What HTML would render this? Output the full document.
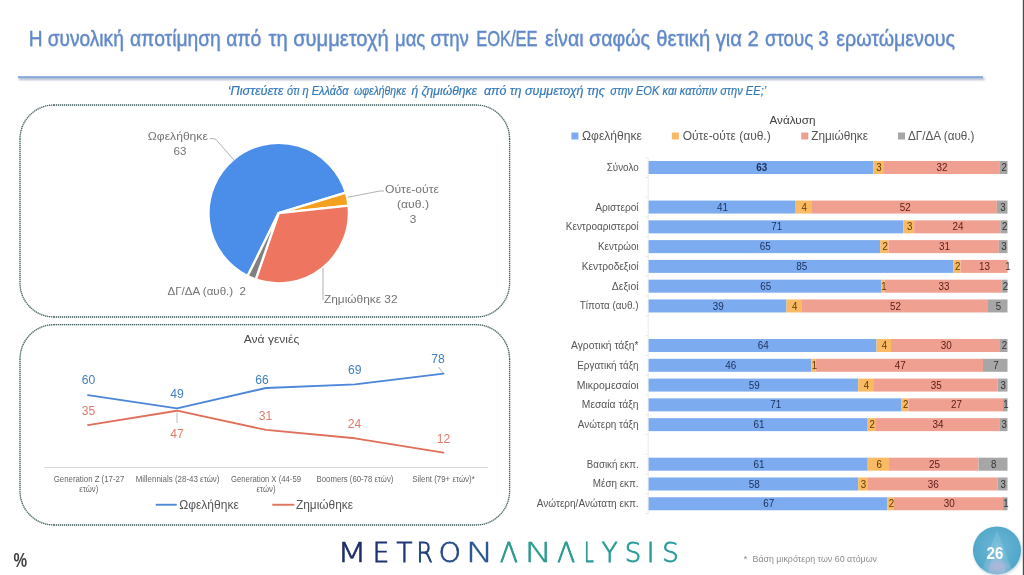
<!DOCTYPE html>
<html lang="el"><head><meta charset="utf-8"><title>Metron Analysis</title>
<style>html,body{margin:0;padding:0;background:#fff;overflow:hidden}svg{display:block}text{white-space:pre}</style></head>
<body>
<svg width="1024" height="575" viewBox="0 0 1024 575" font-family="'Liberation Sans', sans-serif">
<defs>
<filter id="ts" x="-2%" y="-30%" width="104%" height="170%"><feDropShadow dx="0.5" dy="0.7" stdDeviation="0.7" flood-color="#7a8aa5" flood-opacity="0.22"/></filter>
<filter id="sh2" x="-50%" y="-50%" width="200%" height="200%"><feGaussianBlur stdDeviation="2"/></filter>
<filter id="sh" x="-5%" y="-200%" width="110%" height="600%"><feGaussianBlur stdDeviation="1.2"/></filter>
<linearGradient id="lg1" x1="341" x2="490" y1="0" y2="0" gradientUnits="userSpaceOnUse"><stop offset="0" stop-color="#1d2f6c"/><stop offset="0.6" stop-color="#20427f"/><stop offset="1" stop-color="#2a5c96"/></linearGradient>
<linearGradient id="lg2" x1="500" x2="677" y1="0" y2="0" gradientUnits="userSpaceOnUse"><stop offset="0" stop-color="#2c9a8e"/><stop offset="1" stop-color="#2a9a9c"/></linearGradient>
<radialGradient id="cg" cx="0.5" cy="0.45" r="0.55"><stop offset="0" stop-color="#6db7d6"/><stop offset="1" stop-color="#4fa6c8"/></radialGradient>
<clipPath id="cc"><circle cx="997" cy="550.4" r="24"/></clipPath>
</defs>
<rect width="1024" height="575" fill="#fff"/>
<rect x="1022.8" y="0" width="1.2" height="575" fill="#4d4d4d"/>
<text y="46" font-size="22" fill="#6089c8" stroke="#6089c8" stroke-width="0.35" filter="url(#ts)"><tspan x="28.75" textLength="95.00" lengthAdjust="spacingAndGlyphs">Η συνολική</tspan> <tspan x="130" textLength="131.25" lengthAdjust="spacingAndGlyphs">αποτίμηση από</tspan> <tspan x="268.5" textLength="120.25" lengthAdjust="spacingAndGlyphs">τη συμμετοχή</tspan> <tspan x="395" textLength="73.75" lengthAdjust="spacingAndGlyphs">μας στην</tspan> <tspan x="476.25" textLength="61.25" lengthAdjust="spacingAndGlyphs">ΕΟΚ/ΕΕ</tspan> <tspan x="545" textLength="105.00" lengthAdjust="spacingAndGlyphs">είναι σαφώς</tspan> <tspan x="656.25" textLength="102.50" lengthAdjust="spacingAndGlyphs">θετική για 2</tspan> <tspan x="765" textLength="63.75" lengthAdjust="spacingAndGlyphs">στους 3</tspan> <tspan x="836.25" textLength="118.75" lengthAdjust="spacingAndGlyphs">ερωτώμενους</tspan></text>
<rect x="19" y="77.6" width="965.5" height="2.4" fill="#8c9bb5" opacity="0.75" filter="url(#sh)"/>
<rect x="18" y="76.2" width="965" height="2" fill="#86a6da"/>
<text y="95" font-size="12.4" fill="#3379b7" stroke="#3379b7" stroke-width="0.2" font-style="italic"><tspan x="227.7" textLength="55.70" lengthAdjust="spacingAndGlyphs">‘Πιστεύετε</tspan> <tspan x="287" textLength="61.50" lengthAdjust="spacingAndGlyphs">ότι η Ελλάδα</tspan> <tspan x="354" textLength="52.00" lengthAdjust="spacingAndGlyphs">ωφελήθηκε</tspan> <tspan x="411.4" textLength="65.60" lengthAdjust="spacingAndGlyphs">ή ζημιώθηκε</tspan> <tspan x="483.9" textLength="120.90" lengthAdjust="spacingAndGlyphs">από τη συμμετοχή της</tspan> <tspan x="610.3" textLength="155.90" lengthAdjust="spacingAndGlyphs">στην ΕΟΚ και κατόπιν στην ΕΕ;’</tspan></text>
<path d="M54,105 H476 M54,317 H476 M20,139 V283 M509.6,139 V283 M54,105 A34,34 0 0 0 20,139 M476,105 A33.60,34 0 0 1 509.6,139 M476,317 A33.60,34 0 0 0 509.6,283 M54,317 A34,34 0 0 1 20,283" fill="none" stroke="#bccccc" stroke-width="1.2"/>
<path d="M54,105 H476 M54,317 H476 M20,139 V283 M509.6,139 V283 M54,105 A34,34 0 0 0 20,139 M476,105 A33.60,34 0 0 1 509.6,139 M476,317 A33.60,34 0 0 0 509.6,283 M54,317 A34,34 0 0 1 20,283" fill="none" stroke="#4a6060" stroke-width="1.3" stroke-dasharray="1 1"/>
<path d="M54,324.7 H476 M54,525 H476 M20,359 V491 M509.6,359 V491 M54,324.7 A34,34.30000000000001 0 0 0 20,359 M476,324.7 A33.60,34.30000000000001 0 0 1 509.6,359 M476,525 A33.60,34 0 0 0 509.6,491 M54,525 A34,34 0 0 1 20,491" fill="none" stroke="#bccccc" stroke-width="1.2"/>
<path d="M54,324.7 H476 M54,525 H476 M20,359 V491 M509.6,359 V491 M54,324.7 A34,34.30000000000001 0 0 0 20,359 M476,324.7 A33.60,34.30000000000001 0 0 1 509.6,359 M476,525 A33.60,34 0 0 0 509.6,491 M54,525 A34,34 0 0 1 20,491" fill="none" stroke="#4a6060" stroke-width="1.3" stroke-dasharray="1 1"/>
<path d="M278.7,213.1 L247.60,276.03 A70.2,70.2 0 1 1 345.87,192.69 Z" fill="#4a8eea" stroke="#fff" stroke-width="2.3" stroke-linejoin="round"/>
<path d="M278.7,213.1 L345.87,192.69 A70.2,70.2 0 0 1 348.50,205.64 Z" fill="#f6a01f" stroke="#fff" stroke-width="2.3" stroke-linejoin="round"/>
<path d="M278.7,213.1 L348.50,205.64 A70.2,70.2 0 0 1 255.73,279.44 Z" fill="#ee7560" stroke="#fff" stroke-width="2.3" stroke-linejoin="round"/>
<path d="M278.7,213.1 L255.73,279.44 A70.2,70.2 0 0 1 247.60,276.03 Z" fill="#808080" stroke="#fff" stroke-width="2.3" stroke-linejoin="round"/>
<polyline points="210,138.5 215.5,139 234,160" fill="none" stroke="#a8a8a8" stroke-width="0.9"/>
<polyline points="347.5,197.3 380,191 384,191" fill="none" stroke="#a8a8a8" stroke-width="0.9"/>
<polyline points="323,268 323,300" fill="none" stroke="#a8a8a8" stroke-width="0.9"/>
<text x="147.80" y="140.00" font-size="11.8" fill="#737373" textLength="60.00" lengthAdjust="spacingAndGlyphs">Ωφελήθηκε</text>
<text x="173.50" y="154.70" font-size="11.8" fill="#737373" textLength="13.00" lengthAdjust="spacingAndGlyphs">63</text>
<text x="385.00" y="193.00" font-size="11.8" fill="#737373" textLength="54.00" lengthAdjust="spacingAndGlyphs">Ούτε-ούτε</text>
<text x="397.00" y="208.00" font-size="11.8" fill="#737373" textLength="32.00" lengthAdjust="spacingAndGlyphs">(αυθ.)</text>
<text x="413.00" y="223.00" font-size="11.8" fill="#737373" text-anchor="middle">3</text>
<text x="167.50" y="294.50" font-size="11.8" fill="#737373" textLength="78.50" lengthAdjust="spacingAndGlyphs" xml:space="preserve">ΔΓ/ΔΑ (αυθ.)  2</text>
<text x="324.00" y="302.50" font-size="11.8" fill="#737373" textLength="73.50" lengthAdjust="spacingAndGlyphs">Ζημιώθηκε 32</text>
<text x="243.75" y="343.00" font-size="11.8" fill="#4a4a4a" textLength="55.50" lengthAdjust="spacingAndGlyphs">Ανά γενιές</text>
<line x1="44" x2="488" y1="467.5" y2="467.5" stroke="#dadada" stroke-width="1"/>
<polyline points="88,395.18 177,408.35 266,388.00 355,384.41 443.5,373.63" fill="none" stroke="#4c86d9" stroke-width="1.8" stroke-linejoin="round" stroke-linecap="round"/>
<polyline points="88,425.11 177,410.74 266,429.89 355,438.27 443.5,452.64" fill="none" stroke="#e06f5a" stroke-width="1.8" stroke-linejoin="round" stroke-linecap="round"/>
<text x="81.75" y="384.05" font-size="12" fill="#3f7fc1" textLength="13.50" lengthAdjust="spacingAndGlyphs">60</text>
<text x="170.25" y="397.80" font-size="12" fill="#3f7fc1" textLength="13.50" lengthAdjust="spacingAndGlyphs">49</text>
<text x="255.25" y="384.05" font-size="12" fill="#3f7fc1" textLength="13.50" lengthAdjust="spacingAndGlyphs">66</text>
<text x="348.00" y="374.05" font-size="12" fill="#3f7fc1" textLength="13.50" lengthAdjust="spacingAndGlyphs">69</text>
<text x="431.25" y="362.80" font-size="12" fill="#3f7fc1" textLength="13.50" lengthAdjust="spacingAndGlyphs">78</text>
<text x="81.75" y="415.05" font-size="12" fill="#e07c6c" textLength="13.50" lengthAdjust="spacingAndGlyphs">35</text>
<text x="170.25" y="437.80" font-size="12" fill="#e07c6c" textLength="13.50" lengthAdjust="spacingAndGlyphs">47</text>
<text x="258.75" y="420.05" font-size="12" fill="#e07c6c" textLength="13.50" lengthAdjust="spacingAndGlyphs">31</text>
<text x="347.75" y="428.30" font-size="12" fill="#e07c6c" textLength="13.50" lengthAdjust="spacingAndGlyphs">24</text>
<text x="436.75" y="443.30" font-size="12" fill="#e07c6c" textLength="13.50" lengthAdjust="spacingAndGlyphs">12</text>
<line x1="177" x2="177" y1="412.5" y2="423" stroke="#a8a8a8" stroke-width="0.8"/>
<line x1="438.5" x2="443" y1="367" y2="373" stroke="#a8a8a8" stroke-width="0.9"/>
<text x="53.75" y="482.00" font-size="8.4" fill="#666" textLength="70.50" lengthAdjust="spacingAndGlyphs">Generation Z (17-27</text>
<text x="79.25" y="492.00" font-size="8.4" fill="#666" textLength="19.00" lengthAdjust="spacingAndGlyphs">ετών)</text>
<text x="135.72" y="482.00" font-size="8.4" fill="#666" textLength="83.75" lengthAdjust="spacingAndGlyphs">Millennials (28-43 ετών)</text>
<text x="231.00" y="482.00" font-size="8.4" fill="#666" textLength="70.00" lengthAdjust="spacingAndGlyphs">Generation X (44-59</text>
<text x="256.50" y="492.00" font-size="8.4" fill="#666" textLength="19.00" lengthAdjust="spacingAndGlyphs">ετών)</text>
<text x="316.62" y="482.00" font-size="8.4" fill="#666" textLength="76.75" lengthAdjust="spacingAndGlyphs">Boomers (60-78 ετών)</text>
<text x="412.25" y="482.00" font-size="8.4" fill="#666" textLength="62.50" lengthAdjust="spacingAndGlyphs">Silent (79+ ετών)*</text>
<line x1="155.75" x2="176.7" y1="504.75" y2="504.75" stroke="#5089da" stroke-width="1.9"/>
<text x="179.25" y="509.00" font-size="13.2" fill="#555" textLength="59.50" lengthAdjust="spacingAndGlyphs">Ωφελήθηκε</text>
<line x1="272.25" x2="294.3" y1="504.75" y2="504.75" stroke="#e2735e" stroke-width="1.9"/>
<text x="296.00" y="509.00" font-size="13.2" fill="#555" textLength="57.00" lengthAdjust="spacingAndGlyphs">Ζημιώθηκε</text>
<text x="13.60" y="567.00" font-size="20.3" fill="#404040" textLength="13.60" lengthAdjust="spacingAndGlyphs" font-weight="bold">%</text>
<text x="769.50" y="123.75" font-size="11.6" fill="#404040" textLength="46.00" lengthAdjust="spacingAndGlyphs">Ανάλυση</text>
<rect x="571.4" y="132.5" width="7" height="7" fill="#7dabf0"/>
<text x="582.00" y="139.80" font-size="12" fill="#555" textLength="60.00" lengthAdjust="spacingAndGlyphs">Ωφελήθηκε</text>
<rect x="671.8" y="132.5" width="7" height="7" fill="#f9ba63"/>
<text x="682.70" y="139.80" font-size="12" fill="#555" textLength="88.00" lengthAdjust="spacingAndGlyphs">Ούτε-ούτε (αυθ.)</text>
<rect x="801.25" y="132.5" width="7" height="7" fill="#f0a091"/>
<text x="811.25" y="139.80" font-size="12" fill="#555" textLength="56.75" lengthAdjust="spacingAndGlyphs">Ζημιώθηκε</text>
<rect x="898" y="132.5" width="7" height="7" fill="#a6a6a6"/>
<text x="908.00" y="139.80" font-size="12" fill="#555" textLength="66.50" lengthAdjust="spacingAndGlyphs">ΔΓ/ΔΑ (αυθ.)</text>
<path d="M648.2,157.61 V513.65 M645,157.61 H648.2 M645,177.39 H648.2 M645,197.17 H648.2 M645,216.95 H648.2 M645,236.73 H648.2 M645,256.51 H648.2 M645,276.29 H648.2 M645,296.07 H648.2 M645,315.85 H648.2 M645,335.63 H648.2 M645,355.41 H648.2 M645,375.19 H648.2 M645,394.97 H648.2 M645,414.75 H648.2 M645,434.53 H648.2 M645,454.31 H648.2 M645,474.09 H648.2 M645,493.87 H648.2 M645,513.65 H648.2" fill="none" stroke="#e9e9e9" stroke-width="0.9"/>
<text x="606.80" y="171.00" font-size="10.1" fill="#555" textLength="31.80" lengthAdjust="spacingAndGlyphs">Σύνολο</text>
<rect x="648.60" y="161.00" width="224.60" height="13" fill="#7dabf0"/>
<rect x="873.20" y="161.00" width="10.00" height="13" fill="#f9ba63"/>
<rect x="883.20" y="161.00" width="116.10" height="13" fill="#f0a091"/>
<rect x="999.30" y="161.00" width="8.20" height="13" fill="#a6a6a6"/>
<text x="756.20" y="171.10" font-size="10.3" fill="#1a2f5a" textLength="11.00" lengthAdjust="spacingAndGlyphs" font-weight="bold">63</text>
<text x="876.30" y="171.10" font-size="10.3" fill="#5e3a00" textLength="5.40" lengthAdjust="spacingAndGlyphs">3</text>
<text x="936.55" y="171.10" font-size="10.3" fill="#5a1c14" textLength="11.00" lengthAdjust="spacingAndGlyphs">32</text>
<text x="1001.50" y="171.10" font-size="10.3" fill="#333333" textLength="5.40" lengthAdjust="spacingAndGlyphs">2</text>
<text x="595.30" y="210.56" font-size="10.1" fill="#555" textLength="43.30" lengthAdjust="spacingAndGlyphs">Αριστεροί</text>
<rect x="648.60" y="200.56" width="146.40" height="13" fill="#7dabf0"/>
<rect x="795.00" y="200.56" width="17.00" height="13" fill="#f9ba63"/>
<rect x="812.00" y="200.56" width="184.80" height="13" fill="#f0a091"/>
<rect x="996.80" y="200.56" width="10.70" height="13" fill="#a6a6a6"/>
<text x="717.10" y="210.66" font-size="10.3" fill="#1a2f5a" textLength="11.00" lengthAdjust="spacingAndGlyphs">41</text>
<text x="801.60" y="210.66" font-size="10.3" fill="#5e3a00" textLength="5.40" lengthAdjust="spacingAndGlyphs">4</text>
<text x="899.70" y="210.66" font-size="10.3" fill="#5a1c14" textLength="11.00" lengthAdjust="spacingAndGlyphs">52</text>
<text x="1000.25" y="210.66" font-size="10.3" fill="#333333" textLength="5.40" lengthAdjust="spacingAndGlyphs">3</text>
<text x="565.80" y="230.34" font-size="10.1" fill="#555" textLength="72.80" lengthAdjust="spacingAndGlyphs">Κεντροαριστεροί</text>
<rect x="648.60" y="220.34" width="254.82" height="13" fill="#7dabf0"/>
<rect x="903.42" y="220.34" width="10.77" height="13" fill="#f9ba63"/>
<rect x="914.19" y="220.34" width="86.14" height="13" fill="#f0a091"/>
<rect x="1000.32" y="220.34" width="7.18" height="13" fill="#a6a6a6"/>
<text x="771.31" y="230.44" font-size="10.3" fill="#1a2f5a" textLength="11.00" lengthAdjust="spacingAndGlyphs">71</text>
<text x="906.90" y="230.44" font-size="10.3" fill="#5e3a00" textLength="5.40" lengthAdjust="spacingAndGlyphs">3</text>
<text x="952.55" y="230.44" font-size="10.3" fill="#5a1c14" textLength="11.00" lengthAdjust="spacingAndGlyphs">24</text>
<text x="1002.01" y="230.44" font-size="10.3" fill="#333333" textLength="5.40" lengthAdjust="spacingAndGlyphs">2</text>
<text x="598.05" y="250.12" font-size="10.1" fill="#555" textLength="40.55" lengthAdjust="spacingAndGlyphs">Κεντρώοι</text>
<rect x="648.60" y="240.12" width="231.60" height="13" fill="#7dabf0"/>
<rect x="880.20" y="240.12" width="8.30" height="13" fill="#f9ba63"/>
<rect x="888.50" y="240.12" width="110.30" height="13" fill="#f0a091"/>
<rect x="998.80" y="240.12" width="8.70" height="13" fill="#a6a6a6"/>
<text x="759.70" y="250.22" font-size="10.3" fill="#1a2f5a" textLength="11.00" lengthAdjust="spacingAndGlyphs">65</text>
<text x="882.45" y="250.22" font-size="10.3" fill="#5e3a00" textLength="5.40" lengthAdjust="spacingAndGlyphs">2</text>
<text x="938.95" y="250.22" font-size="10.3" fill="#5a1c14" textLength="11.00" lengthAdjust="spacingAndGlyphs">31</text>
<text x="1001.25" y="250.22" font-size="10.3" fill="#333333" textLength="5.40" lengthAdjust="spacingAndGlyphs">3</text>
<text x="581.80" y="269.90" font-size="10.1" fill="#555" textLength="56.80" lengthAdjust="spacingAndGlyphs">Κεντροδεξιοί</text>
<rect x="648.60" y="259.90" width="304.80" height="13" fill="#7dabf0"/>
<rect x="953.40" y="259.90" width="7.00" height="13" fill="#f9ba63"/>
<rect x="960.40" y="259.90" width="46.60" height="13" fill="#f0a091"/>
<rect x="1007.00" y="259.90" width="0.50" height="13" fill="#a6a6a6"/>
<text x="796.30" y="270.00" font-size="10.3" fill="#1a2f5a" textLength="11.00" lengthAdjust="spacingAndGlyphs">85</text>
<text x="955.00" y="270.00" font-size="10.3" fill="#5e3a00" textLength="5.40" lengthAdjust="spacingAndGlyphs">2</text>
<text x="979.00" y="270.00" font-size="10.3" fill="#5a1c14" textLength="11.00" lengthAdjust="spacingAndGlyphs">13</text>
<text x="1005.35" y="270.00" font-size="10.3" fill="#333333" textLength="5.40" lengthAdjust="spacingAndGlyphs">1</text>
<text x="611.80" y="289.68" font-size="10.1" fill="#555" textLength="26.80" lengthAdjust="spacingAndGlyphs">Δεξιοί</text>
<rect x="648.60" y="279.68" width="232.90" height="13" fill="#7dabf0"/>
<rect x="881.50" y="279.68" width="3.20" height="13" fill="#f9ba63"/>
<rect x="884.70" y="279.68" width="117.10" height="13" fill="#f0a091"/>
<rect x="1001.80" y="279.68" width="5.70" height="13" fill="#a6a6a6"/>
<text x="760.35" y="289.78" font-size="10.3" fill="#1a2f5a" textLength="11.00" lengthAdjust="spacingAndGlyphs">65</text>
<text x="881.20" y="289.78" font-size="10.3" fill="#5e3a00" textLength="5.40" lengthAdjust="spacingAndGlyphs">1</text>
<text x="938.55" y="289.78" font-size="10.3" fill="#5a1c14" textLength="11.00" lengthAdjust="spacingAndGlyphs">33</text>
<text x="1002.75" y="289.78" font-size="10.3" fill="#333333" textLength="5.40" lengthAdjust="spacingAndGlyphs">2</text>
<text x="579.80" y="309.46" font-size="10.1" fill="#555" textLength="58.80" lengthAdjust="spacingAndGlyphs">Τίποτα (αυθ.)</text>
<rect x="648.60" y="299.46" width="137.90" height="13" fill="#7dabf0"/>
<rect x="786.50" y="299.46" width="14.80" height="13" fill="#f9ba63"/>
<rect x="801.30" y="299.46" width="186.70" height="13" fill="#f0a091"/>
<rect x="988.00" y="299.46" width="19.50" height="13" fill="#a6a6a6"/>
<text x="712.85" y="309.56" font-size="10.3" fill="#1a2f5a" textLength="11.00" lengthAdjust="spacingAndGlyphs">39</text>
<text x="792.00" y="309.56" font-size="10.3" fill="#5e3a00" textLength="5.40" lengthAdjust="spacingAndGlyphs">4</text>
<text x="889.95" y="309.56" font-size="10.3" fill="#5a1c14" textLength="11.00" lengthAdjust="spacingAndGlyphs">52</text>
<text x="995.85" y="309.56" font-size="10.3" fill="#333333" textLength="5.40" lengthAdjust="spacingAndGlyphs">5</text>
<text x="571.05" y="349.02" font-size="10.1" fill="#555" textLength="67.55" lengthAdjust="spacingAndGlyphs">Αγροτική τάξη*</text>
<rect x="648.60" y="339.02" width="227.90" height="13" fill="#7dabf0"/>
<rect x="876.50" y="339.02" width="14.50" height="13" fill="#f9ba63"/>
<rect x="891.00" y="339.02" width="109.00" height="13" fill="#f0a091"/>
<rect x="1000.00" y="339.02" width="7.50" height="13" fill="#a6a6a6"/>
<text x="757.85" y="349.12" font-size="10.3" fill="#1a2f5a" textLength="11.00" lengthAdjust="spacingAndGlyphs">64</text>
<text x="881.85" y="349.12" font-size="10.3" fill="#5e3a00" textLength="5.40" lengthAdjust="spacingAndGlyphs">4</text>
<text x="940.80" y="349.12" font-size="10.3" fill="#5a1c14" textLength="11.00" lengthAdjust="spacingAndGlyphs">30</text>
<text x="1001.85" y="349.12" font-size="10.3" fill="#333333" textLength="5.40" lengthAdjust="spacingAndGlyphs">2</text>
<text x="577.30" y="368.80" font-size="10.1" fill="#555" textLength="61.30" lengthAdjust="spacingAndGlyphs">Εργατική τάξη</text>
<rect x="648.60" y="358.80" width="162.70" height="13" fill="#7dabf0"/>
<rect x="811.30" y="358.80" width="4.50" height="13" fill="#f9ba63"/>
<rect x="815.80" y="358.80" width="167.20" height="13" fill="#f0a091"/>
<rect x="983.00" y="358.80" width="24.50" height="13" fill="#a6a6a6"/>
<text x="725.25" y="368.90" font-size="10.3" fill="#1a2f5a" textLength="11.00" lengthAdjust="spacingAndGlyphs">46</text>
<text x="811.65" y="368.90" font-size="10.3" fill="#5e3a00" textLength="5.40" lengthAdjust="spacingAndGlyphs">1</text>
<text x="894.70" y="368.90" font-size="10.3" fill="#5a1c14" textLength="11.00" lengthAdjust="spacingAndGlyphs">47</text>
<text x="993.35" y="368.90" font-size="10.3" fill="#333333" textLength="5.40" lengthAdjust="spacingAndGlyphs">7</text>
<text x="576.80" y="388.58" font-size="10.1" fill="#555" textLength="61.80" lengthAdjust="spacingAndGlyphs">Μικρομεσαίοι</text>
<rect x="648.60" y="378.58" width="209.60" height="13" fill="#7dabf0"/>
<rect x="858.20" y="378.58" width="15.00" height="13" fill="#f9ba63"/>
<rect x="873.20" y="378.58" width="124.30" height="13" fill="#f0a091"/>
<rect x="997.50" y="378.58" width="10.00" height="13" fill="#a6a6a6"/>
<text x="748.70" y="388.68" font-size="10.3" fill="#1a2f5a" textLength="11.00" lengthAdjust="spacingAndGlyphs">59</text>
<text x="863.80" y="388.68" font-size="10.3" fill="#5e3a00" textLength="5.40" lengthAdjust="spacingAndGlyphs">4</text>
<text x="930.65" y="388.68" font-size="10.3" fill="#5a1c14" textLength="11.00" lengthAdjust="spacingAndGlyphs">35</text>
<text x="1000.60" y="388.68" font-size="10.3" fill="#333333" textLength="5.40" lengthAdjust="spacingAndGlyphs">3</text>
<text x="581.80" y="408.36" font-size="10.1" fill="#555" textLength="56.80" lengthAdjust="spacingAndGlyphs">Μεσαία τάξη</text>
<rect x="648.60" y="398.36" width="252.90" height="13" fill="#7dabf0"/>
<rect x="901.50" y="398.36" width="6.80" height="13" fill="#f9ba63"/>
<rect x="908.30" y="398.36" width="94.70" height="13" fill="#f0a091"/>
<rect x="1003.00" y="398.36" width="4.50" height="13" fill="#a6a6a6"/>
<text x="770.35" y="408.46" font-size="10.3" fill="#1a2f5a" textLength="11.00" lengthAdjust="spacingAndGlyphs">71</text>
<text x="903.00" y="408.46" font-size="10.3" fill="#5e3a00" textLength="5.40" lengthAdjust="spacingAndGlyphs">2</text>
<text x="950.95" y="408.46" font-size="10.3" fill="#5a1c14" textLength="11.00" lengthAdjust="spacingAndGlyphs">27</text>
<text x="1003.35" y="408.46" font-size="10.3" fill="#333333" textLength="5.40" lengthAdjust="spacingAndGlyphs">1</text>
<text x="577.80" y="428.14" font-size="10.1" fill="#555" textLength="60.80" lengthAdjust="spacingAndGlyphs">Ανώτερη τάξη</text>
<rect x="648.60" y="418.14" width="219.10" height="13" fill="#7dabf0"/>
<rect x="867.70" y="418.14" width="7.50" height="13" fill="#f9ba63"/>
<rect x="875.20" y="418.14" width="124.10" height="13" fill="#f0a091"/>
<rect x="999.30" y="418.14" width="8.20" height="13" fill="#a6a6a6"/>
<text x="753.45" y="428.24" font-size="10.3" fill="#1a2f5a" textLength="11.00" lengthAdjust="spacingAndGlyphs">61</text>
<text x="869.55" y="428.24" font-size="10.3" fill="#5e3a00" textLength="5.40" lengthAdjust="spacingAndGlyphs">2</text>
<text x="932.55" y="428.24" font-size="10.3" fill="#5a1c14" textLength="11.00" lengthAdjust="spacingAndGlyphs">34</text>
<text x="1001.50" y="428.24" font-size="10.3" fill="#333333" textLength="5.40" lengthAdjust="spacingAndGlyphs">3</text>
<text x="586.80" y="467.70" font-size="10.1" fill="#555" textLength="51.80" lengthAdjust="spacingAndGlyphs">Βασική εκπ.</text>
<rect x="648.60" y="457.70" width="219.10" height="13" fill="#7dabf0"/>
<rect x="867.70" y="457.70" width="21.30" height="13" fill="#f9ba63"/>
<rect x="889.00" y="457.70" width="89.50" height="13" fill="#f0a091"/>
<rect x="978.50" y="457.70" width="29.00" height="13" fill="#a6a6a6"/>
<text x="753.45" y="467.80" font-size="10.3" fill="#1a2f5a" textLength="11.00" lengthAdjust="spacingAndGlyphs">61</text>
<text x="876.45" y="467.80" font-size="10.3" fill="#5e3a00" textLength="5.40" lengthAdjust="spacingAndGlyphs">6</text>
<text x="929.05" y="467.80" font-size="10.3" fill="#5a1c14" textLength="11.00" lengthAdjust="spacingAndGlyphs">25</text>
<text x="991.10" y="467.80" font-size="10.3" fill="#333333" textLength="5.40" lengthAdjust="spacingAndGlyphs">8</text>
<text x="592.80" y="487.48" font-size="10.1" fill="#555" textLength="45.80" lengthAdjust="spacingAndGlyphs">Μέση εκπ.</text>
<rect x="648.60" y="477.48" width="209.60" height="13" fill="#7dabf0"/>
<rect x="858.20" y="477.48" width="9.00" height="13" fill="#f9ba63"/>
<rect x="867.20" y="477.48" width="130.30" height="13" fill="#f0a091"/>
<rect x="997.50" y="477.48" width="10.00" height="13" fill="#a6a6a6"/>
<text x="748.70" y="487.58" font-size="10.3" fill="#1a2f5a" textLength="11.00" lengthAdjust="spacingAndGlyphs">58</text>
<text x="860.80" y="487.58" font-size="10.3" fill="#5e3a00" textLength="5.40" lengthAdjust="spacingAndGlyphs">3</text>
<text x="927.65" y="487.58" font-size="10.3" fill="#5a1c14" textLength="11.00" lengthAdjust="spacingAndGlyphs">36</text>
<text x="1000.60" y="487.58" font-size="10.3" fill="#333333" textLength="5.40" lengthAdjust="spacingAndGlyphs">3</text>
<text x="536.80" y="507.26" font-size="10.1" fill="#555" textLength="101.80" lengthAdjust="spacingAndGlyphs">Ανώτερη/Ανώτατη εκπ.</text>
<rect x="648.60" y="497.26" width="238.60" height="13" fill="#7dabf0"/>
<rect x="887.20" y="497.26" width="6.80" height="13" fill="#f9ba63"/>
<rect x="894.00" y="497.26" width="109.00" height="13" fill="#f0a091"/>
<rect x="1003.00" y="497.26" width="4.50" height="13" fill="#a6a6a6"/>
<text x="763.20" y="507.36" font-size="10.3" fill="#1a2f5a" textLength="11.00" lengthAdjust="spacingAndGlyphs">67</text>
<text x="888.70" y="507.36" font-size="10.3" fill="#5e3a00" textLength="5.40" lengthAdjust="spacingAndGlyphs">2</text>
<text x="943.80" y="507.36" font-size="10.3" fill="#5a1c14" textLength="11.00" lengthAdjust="spacingAndGlyphs">30</text>
<text x="1003.35" y="507.36" font-size="10.3" fill="#333333" textLength="5.40" lengthAdjust="spacingAndGlyphs">1</text>
<g font-size="26" text-anchor="middle" font-family="'DejaVu Sans Light', 'DejaVu Sans', sans-serif" font-weight="200" stroke-width="0.9">
<text transform="translate(352,562.2) scale(1.33,1)" fill="#1e2d6b" stroke="#1e2d6b" stroke-width="0.55" vector-effect="non-scaling-stroke">M</text>
<text transform="translate(381,562.2) scale(1,1)" fill="#1f3470" stroke="#1f3470" stroke-width="0.9" vector-effect="non-scaling-stroke">E</text>
<text transform="translate(404.5,562.2) scale(1,1)" fill="#1f3a75" stroke="#1f3a75" stroke-width="0.9" vector-effect="non-scaling-stroke">T</text>
<text transform="translate(424.7,562.2) scale(0.9,1)" fill="#21407c" stroke="#21407c" stroke-width="0.9" vector-effect="non-scaling-stroke">R</text>
<text transform="translate(449.7,562.2) scale(1.1,1)" fill="#234a86" stroke="#234a86" stroke-width="0.8" vector-effect="non-scaling-stroke">O</text>
<text transform="translate(479.5,562.2) scale(1.45,1)" fill="#25558f" stroke="#25558f" stroke-width="0.45" vector-effect="non-scaling-stroke">N</text>
<text transform="translate(509,562.2) scale(1,1)" fill="#2b9a8c" stroke="#2b9a8c" stroke-width="0.9" vector-effect="non-scaling-stroke">Λ</text>
<text transform="translate(538.3,562.2) scale(1.45,1)" fill="#2b9a8e" stroke="#2b9a8e" stroke-width="0.45" vector-effect="non-scaling-stroke">N</text>
<text transform="translate(566.2,562.2) scale(1,1)" fill="#2b9b91" stroke="#2b9b91" stroke-width="0.9" vector-effect="non-scaling-stroke">Λ</text>
<text transform="translate(589,562.2) scale(0.65,1)" fill="#2b9b94" stroke="#2b9b94" stroke-width="1.0" vector-effect="non-scaling-stroke">L</text>
<text transform="translate(609.6,562.2) scale(1,1)" fill="#2a9c97" stroke="#2a9c97" stroke-width="0.9" vector-effect="non-scaling-stroke">Y</text>
<text transform="translate(633,562.2) scale(1,1)" fill="#2a9c99" stroke="#2a9c99" stroke-width="0.9" vector-effect="non-scaling-stroke">S</text>
<text transform="translate(650.7,562.2) scale(1,1)" fill="#2a9c9b" stroke="#2a9c9b" stroke-width="0.9" vector-effect="non-scaling-stroke">I</text>
<text transform="translate(670.6,562.2) scale(1,1)" fill="#2a9c9c" stroke="#2a9c9c" stroke-width="0.9" vector-effect="non-scaling-stroke">S</text>
</g>
<text x="743.75" y="561.75" font-size="9" fill="#8c8c8c">*</text>
<text x="752.50" y="561.75" font-size="9" fill="#8c8c8c" textLength="124.50" lengthAdjust="spacingAndGlyphs">Βάση μικρότερη των 60 ατόμων</text>
<circle cx="997.6" cy="551.6" r="24.6" fill="#9fb8c4" opacity="0.45" filter="url(#sh)"/>
<circle cx="997" cy="550.4" r="24" fill="url(#cg)"/>
<g clip-path="url(#cc)"><path d="M997,530 L1014,575 L980,575 Z" fill="#9ad3e8" opacity="0.3"/><path d="M997,542 L1007,575 L987,575 Z" fill="#b5c3e6" opacity="0.3"/><ellipse cx="998" cy="567" rx="10" ry="6" fill="#c9b6dc" opacity="0.55" filter="url(#sh2)"/></g>
<text x="986.60" y="558.90" font-size="15.9" fill="#fff" textLength="16.80" lengthAdjust="spacingAndGlyphs" font-weight="bold">26</text>
</svg>
</body></html>
